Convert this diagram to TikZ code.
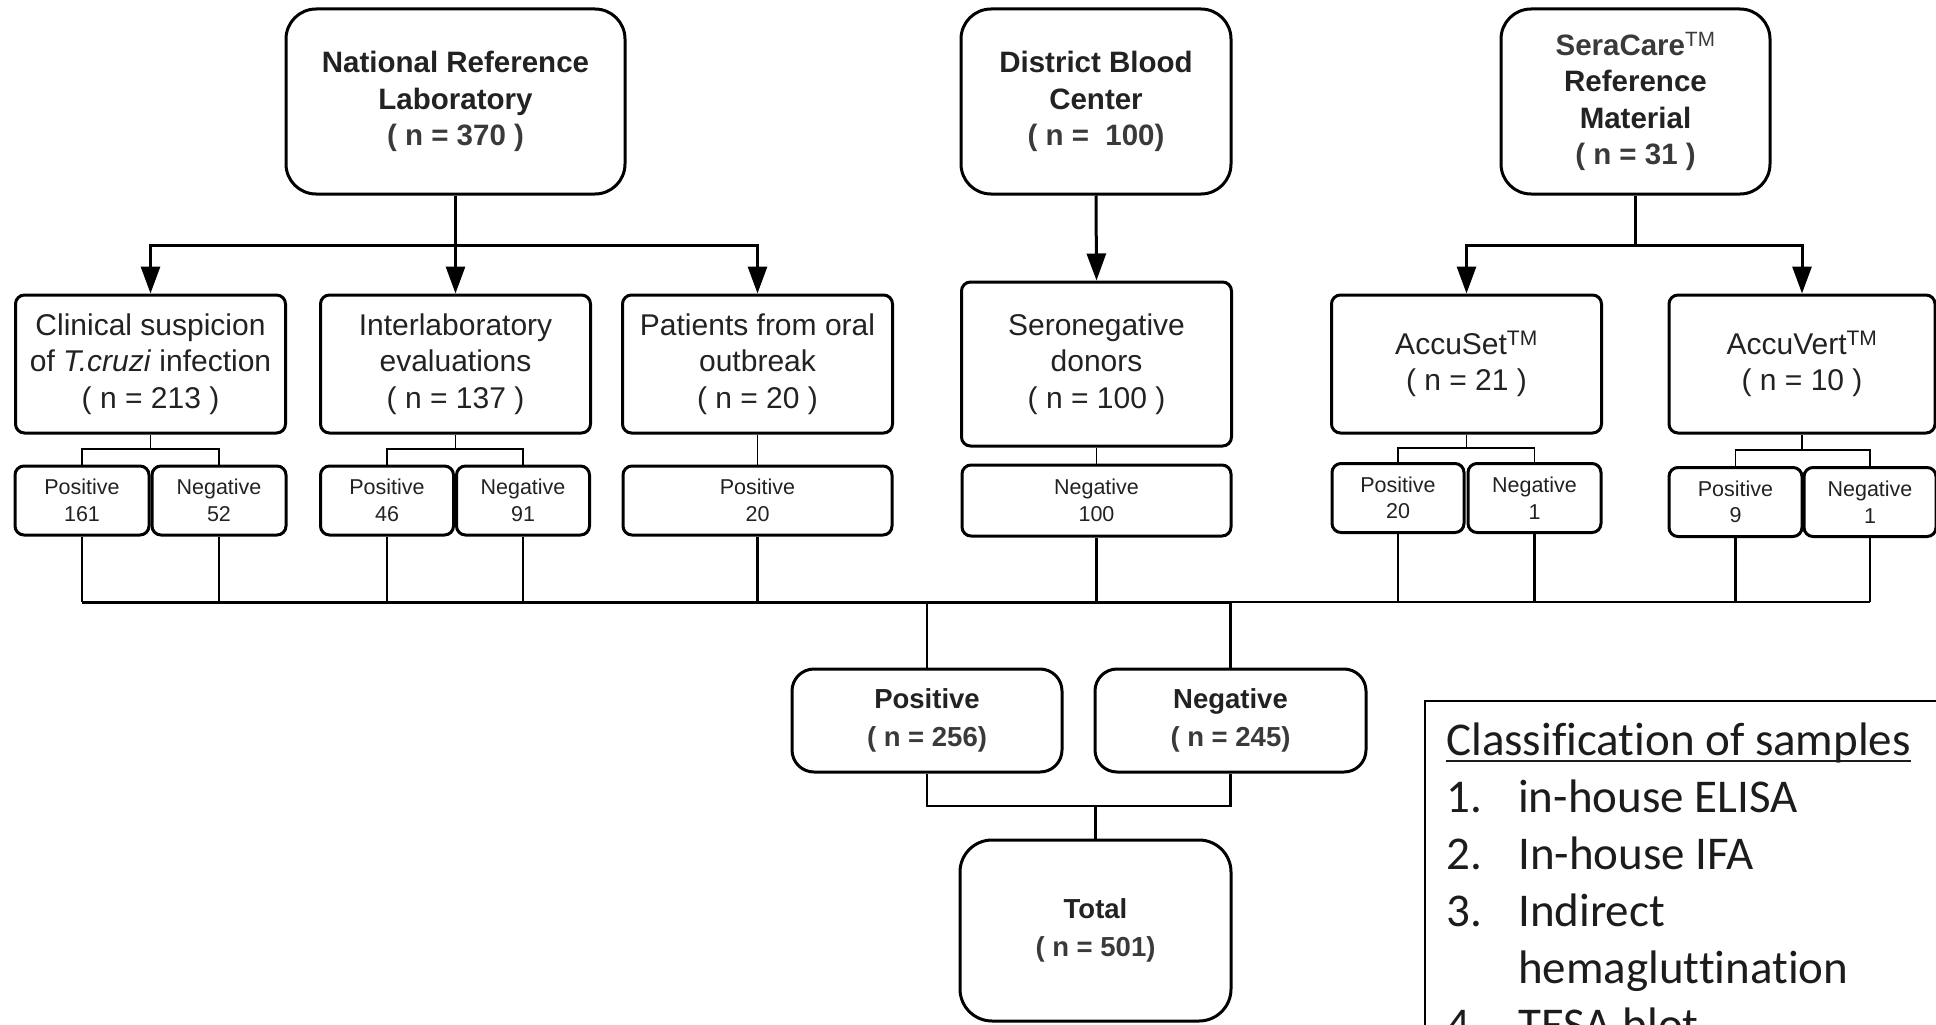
\documentclass[tikz,border=0pt]{standalone}
\usepackage{fontspec}
\setmainfont{Liberation Sans}
\newfontfamily\legendfont[Ligatures=NoCommon]{Carlito}
\usetikzlibrary{arrows.meta}
\definecolor{txt}{HTML}{222222}
\definecolor{ntxt}{HTML}{3a3a3a}
\definecolor{legc}{HTML}{1c1c1c}
\begin{document}
\begin{tikzpicture}[x=1pt,y=-1pt,
  box/.style={draw=black, line width=3pt, inner sep=0pt, align=center, text=txt},
  topbox/.style={box, rounded corners=30pt, minimum width=#1, minimum height=185pt,
     font=\bfseries\fontsize{29.5}{36.5}\selectfont},
  midbox/.style={box, rounded corners=9pt, minimum width=270pt, minimum height=138pt,
     font=\fontsize{30}{36.7}\selectfont},
  subbox/.style={box, rounded corners=9pt, minimum width=#1, minimum height=69pt,
     font=\fontsize{21.5}{26.5}\selectfont},
  resbox/.style={box, rounded corners=22pt, minimum width=270pt, minimum height=103pt,
     font=\bfseries\fontsize{27.5}{37.7}\selectfont},
  conn/.style={line width=3pt},
  arr/.style={conn, -{Triangle[length=27pt,width=19pt]}},
  thinl/.style={line width=1.6pt},
  midl/.style={line width=2.4pt},
  legtxt/.style={inner sep=0pt, anchor=base west, font=\legendfont\fontsize{47}{56}\selectfont, text=legc}
]
\path[use as bounding box] (0,0) rectangle (1936,1025);
\clip (0,0) rectangle (1936,1025);

% top boxes
\node[topbox=339pt] (nrl) at (455.5,101.5) {National Reference\\Laboratory\\\textcolor{ntxt}{( n = 370 )}};
\node[topbox=270pt] (dbc) at (1096,101.5) {District Blood\\Center\\\textcolor{ntxt}{( n = \ 100)}};
\node[topbox=269pt] (sera) at (1635.5,101.5) {\textcolor{ntxt}{SeraCare\textsuperscript{\mdseries TM}}\\Reference\\Material\\\textcolor{ntxt}{( n = 31 )}};

% middle boxes
\node[midbox] (clin) at (150.5,364) {Clinical suspicion\\of \textit{T.cruzi} infection\\( n = 213 )};
\node[midbox] (inter) at (455.5,364) {Interlaboratory\\evaluations\\( n = 137 )};
\node[midbox] (oral) at (757.5,364) {Patients from oral\\outbreak\\( n = 20 )};
\node[midbox, minimum height=164pt] (sero) at (1096.5,364) {Seronegative\\donors\\( n = 100 )};
\node[midbox] (accset) at (1466.5,364) {AccuSet\textsuperscript{TM}\\( n = 21 )};
\node[midbox, minimum width=266pt] (accvert) at (1802,364) {AccuVert\textsuperscript{TM}\\( n = 10 )};

% sub boxes
\node[subbox=134pt] (clinpos) at (82,500.5) {Positive\\161};
\node[subbox=134pt] (clinneg) at (219,500.5) {Negative\\52};
\node[subbox=133pt] (interpos) at (387,500.5) {Positive\\46};
\node[subbox=133pt] (interneg) at (523,500.5) {Negative\\91};
\node[subbox=269pt] (oralpos) at (757.5,500.5) {Positive\\20};
\node[subbox=269pt, minimum height=71pt] (seroneg) at (1096.5,500.5) {Negative\\100};
\node[subbox=132pt] (accpos) at (1398,498) {Positive\\20};
\node[subbox=133pt] (accneg) at (1534.5,498) {Negative\\1};
\node[subbox=133pt] (avpos) at (1735.5,502) {Positive\\9};
\node[subbox=132pt] (avneg) at (1870,502) {Negative\\1};

% result boxes
\node[resbox] (pos) at (927,720.5) {Positive\\\textcolor{ntxt}{( n = 256)}};
\node[resbox, minimum width=271pt] (neg) at (1230.5,720.5) {Negative\\\textcolor{ntxt}{( n = 245)}};
\node[box, rounded corners=32pt, minimum width=271pt, minimum height=181pt,
      font=\bfseries\fontsize{27.5}{37.7}\selectfont] (total) at (1095.5,930.5) {Total\\\textcolor{ntxt}{( n = 501)}};

% coordinates
\coordinate (nrlbar) at (455.5,245);
\coordinate (serabar) at (1635.5,245);
\coordinate (clinbr) at (150.5,449);
\coordinate (interbr) at (455.5,449);
\coordinate (accbr) at (1466.5,448);
\coordinate (avbr) at (1802,450);
\coordinate (busL) at (82,602);
\coordinate (busM) at (1231,602);
\coordinate (busR) at (1870,602);
\coordinate (jn) at (1095.5,806);

% top connectors
\draw[conn] (nrl.south) -- (nrlbar);
\draw[arr] (nrlbar) -| (clin.north);
\draw[arr] (nrlbar) -| (oral.north);
\draw[arr] (nrlbar) -- (inter.north);
\draw[arr] (dbc.south) -- (sero.north);
\draw[conn] (sera.south) -- (serabar);
\draw[arr] (serabar) -| (accset.north);
\draw[arr] (serabar) -| (accvert.north);

% brackets
\draw[thinl] (clin.south) -- (clinbr);
\draw[thinl] (clinpos.north) |- (clinbr) -| (clinneg.north);
\draw[thinl] (inter.south) -- (interbr);
\draw[thinl] (interpos.north) |- (interbr) -| (interneg.north);
\draw[thinl] (oral.south) -- (oralpos.north);
\draw[thinl] (sero.south) -- (seroneg.north);
\draw[thinl] (accset.south) -- (accbr);
\draw[thinl] (accpos.north) |- (accbr) -| (accneg.north);
\draw[thinl] (accvert.south) -- (avbr);
\draw[thinl] (avpos.north) |- (avbr) -| (avneg.north);

% drops to bus
\foreach \n in {clinpos,clinneg,interpos,interneg,oralpos,seroneg,accpos,accneg,avpos,avneg}
  \draw[midl] (\n.south) -- (\n.south |- busL);
\draw[conn] (busL) -- (busM);
\draw[midl] (busM) -- (busR);

% bus to results
\draw[midl] (pos.north |- busL) -- (pos.north);
\draw[midl] (neg.north |- busL) -- (neg.north);
\draw[midl] (pos.south) |- (jn);
\draw[midl] (neg.south) |- (jn);
\draw[midl] (jn) -- (total.north);

% legend
\node[draw=black, line width=2pt, anchor=north west, minimum width=540pt, minimum height=380pt, inner sep=0pt] (legend) at (1424,700) {};
\node[legtxt] (ltitle) at (1446,755) {Classification of samples};
\draw[line width=1.8pt, legc] ([yshift=-6pt]ltitle.base west) -- ([yshift=-6pt]ltitle.base east);
\node[legtxt] (n1) at (1446,812) {1.};
\node[legtxt] (t1) at (1518,812) {in-house ELISA};
\node[legtxt] (n2) at (1446,869) {2.};
\node[legtxt] (t2) at (1518,869) {In-house IFA};
\node[legtxt] (n3) at (1446,926) {3.};
\node[legtxt] (t3) at (1518,926) {Indirect};
\node[legtxt] (t3b) at (1518,983) {hemagluttination};
\node[legtxt] (n4) at (1446,1040) {4.};
\node[legtxt] (t4) at (1518,1040) {TESA blot};
\end{tikzpicture}
\end{document}
